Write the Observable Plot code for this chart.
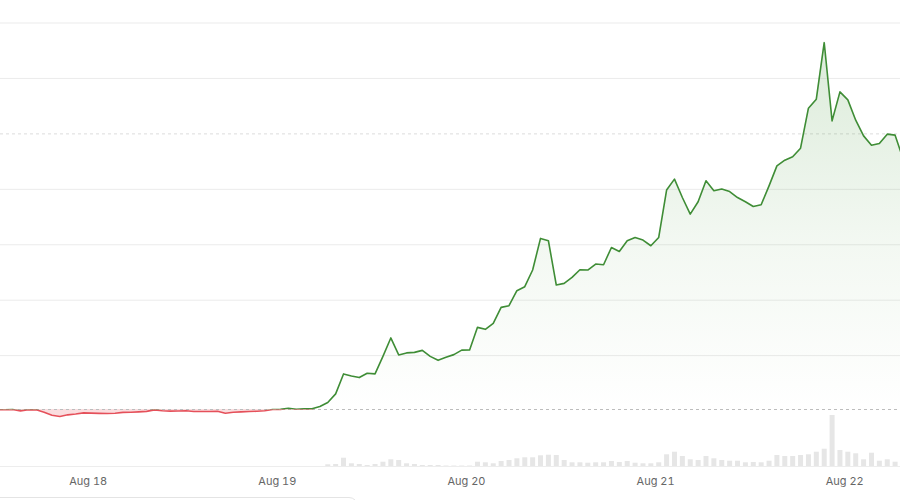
<!DOCTYPE html>
<html><head><meta charset="utf-8">
<script src="https://cdn.jsdelivr.net/npm/d3@7"></script>
<script src="https://cdn.jsdelivr.net/npm/@observablehq/plot@0.6"></script>
<style>
html,body{margin:0;padding:0;background:#fff;overflow:hidden;width:900px;height:500px}
#wrap{position:relative;width:900px;height:500px;overflow:hidden}
#wrap svg{position:absolute;left:0;top:0}
#box{position:absolute;left:-20px;top:497px;width:378px;height:40px;border:1px solid #e4e4e4;border-radius:9px;box-sizing:border-box}
</style></head><body><div id="wrap"><div id="box"></div></div>
<script>
// hourly samples, first at this time
const startTime = "2023-08-17T12:24:00Z";
const prices = [
  0.022, 0.023, 0.027, 0.004, 0.023, 0.022, -0.022, -0.077, -0.099, -0.068, -0.054, -0.032,
  -0.038, -0.041, -0.045, -0.040, -0.023, -0.022, -0.014, -0.005, 0.022, 0.005, -0.002, 0.002,
  0.005, -0.009, -0.009, -0.007, -0.004, -0.040, -0.022, -0.014, -0.009, -0.004, 0.005, 0.027,
  0.031, 0.050, 0.032, 0.040, 0.040, 0.081, 0.153, 0.310, 0.670, 0.634, 0.604, 0.681,
  0.670, 0.987, 1.319, 1.013, 1.049, 1.059, 1.095, 0.987, 0.915, 0.969, 1.018, 1.099,
  1.103, 1.510, 1.474, 1.582, 1.870, 1.901, 2.171, 2.243, 2.544, 3.114, 3.072, 2.274,
  2.303, 2.411, 2.550, 2.544, 2.652, 2.640, 2.951, 2.879, 3.072, 3.132, 3.085, 2.982,
  3.132, 3.986, 4.184, 3.852, 3.553, 3.775, 4.153, 3.973, 4.004, 3.960, 3.852, 3.775,
  3.690, 3.721, 4.063, 4.423, 4.526, 4.586, 4.742, 5.463, 5.625, 6.645, 5.234, 5.757,
  5.613, 5.247, 4.964, 4.796, 4.825, 4.995, 4.977, 4.550
];
const volumes = [
  0,0,0,0,0,0,0,0,0,0,0,0,
  0,0,0,0,0,0,0,0,0,0,0,0,
  0,0,0,0,0,0,0,0,0,0,0,0,
  0,0,0,0,0,0,
  1.7, 2, 8.3, 2.7, 2, 1, 2, 4.3, 6.7, 6, 2.7, 2,
  1, 1, 1, 0.5, 0.5, 0.5, 0.5, 4.3, 3.7, 2.7, 5, 6,
  7.7, 8.7, 8.7, 10.7, 11.3, 11, 6, 3.7, 3.7, 3.3, 3.7, 3.7,
  5, 4, 5, 3.3, 2.7, 2.7, 3.7, 11.7, 14.3, 10, 6.7, 6,
  10, 7.7, 6, 5.3, 5.3, 3.7, 4, 3.7, 5.3, 11, 10, 10,
  11, 11.7, 14.3, 17.3, 51, 16, 14.3, 12.7, 6.7, 13.3, 5.3, 6.7,
  4.3, 4
];
const refPrice = 0.028;
const gridValues = [1, 2, 3, 4, 6, 7];
const dashedGridValues = [5];
const dayTicks = ["2023-08-18", "2023-08-19", "2023-08-20", "2023-08-21", "2023-08-22"];
const xDomain = ["2023-08-17T12:52:00Z", "2023-08-22T07:05:00Z"];

const t0 = new Date(startTime);
const data = prices.map((p, i) => ({t: d3.utcHour.offset(t0, i), price: p, vol: volumes[i]}));
const domainX = xDomain.map(d => new Date(d));

const GREEN = "#3f8d36", RED = "#e5505a";

const defsMark = (index, scales) => {
  const ns = "http://www.w3.org/2000/svg";
  const y = scales && typeof scales.y === "function" ? scales.y : (v => 410.56 - v * 55.44);
  const yRef = y(refPrice), yTop = y(6.8);
  const defs = document.createElementNS(ns, "defs");
  defs.innerHTML =
    `<linearGradient id="gg" gradientUnits="userSpaceOnUse" x1="0" x2="0" y1="${yTop}" y2="${yRef}">` +
    `<stop offset="0" stop-color="#4a9a3f" stop-opacity="0.2"/>` +
    `<stop offset="0.55" stop-color="#4a9a3f" stop-opacity="0.07"/>` +
    `<stop offset="1" stop-color="#4a9a3f" stop-opacity="0"/></linearGradient>` +
    `<clipPath id="clipAbove"><rect x="-50" y="-50" width="1000" height="${yRef + 50}"/></clipPath>` +
    `<clipPath id="clipBelow"><rect x="-50" y="${yRef}" width="1000" height="${600 - yRef}"/></clipPath>`;
  return defs;
};

const volChart = Plot.plot({
  width: 900, height: 500,
  marginTop: 406, marginBottom: 34, marginLeft: 0, marginRight: 0,
  style: {background: "transparent"},
  x: {type: "utc", domain: domainX, axis: null},
  y: {domain: [0, 60], axis: null},
  marks: [
    Plot.ruleY([0], {stroke: "#ededed"}),
    Plot.ruleX(data, {x: "t", y1: d => 0, y2: "vol", stroke: "#e6e6e6", strokeWidth: 5})
  ]
});

const chart = Plot.plot({
  width: 900, height: 500,
  marginTop: 22.5, marginBottom: 34, marginLeft: 0, marginRight: 0,
  style: {background: "transparent", fontFamily: "Inter, 'Liberation Sans', sans-serif", fontSize: "11px", color: "#666"},
  x: {type: "utc", domain: domainX, ticks: dayTicks.map(d => new Date(d)), tickFormat: d3.utcFormat("%b %-d"), tickSize: 0, tickPadding: 11, label: null},
  y: {domain: [-1, 7], axis: null},
  marks: [
    Plot.ruleY(gridValues, {stroke: "#ebebeb"}),
    Plot.ruleY(dashedGridValues, {stroke: "#dcdcdc", strokeDasharray: "3,3"}),
    defsMark,
    Plot.areaY(data, {x: "t", y1: d => refPrice, y2: "price", fill: "url(#gg)", ariaDescription: "green-area"}),
    Plot.areaY(data, {x: "t", y1: d => refPrice, y2: "price", fill: "#f7c6ca", fillOpacity: 0.6, ariaDescription: "red-area"}),
    Plot.ruleY([refPrice], {stroke: "#bdbdbd", strokeDasharray: "3,3"}),
    Plot.lineY(data, {x: "t", y: "price", stroke: GREEN, strokeWidth: 1.6, ariaDescription: "green-line"}),
    Plot.lineY(data, {x: "t", y: "price", stroke: RED, strokeWidth: 1.6, ariaDescription: "red-line"})
  ]
});

const clipFor = {"green-area": "clipAbove", "green-line": "clipAbove", "red-area": "clipBelow", "red-line": "clipBelow"};
let applied = 0;
for (const [desc, clip] of Object.entries(clipFor)) {
  const g = chart.querySelector(`[aria-description="${desc}"]`);
  if (g) { g.setAttribute("clip-path", `url(#${clip})`); applied++; }
}
if (applied < 4) {
  const areas = chart.querySelectorAll('g[aria-label="area"]');
  const lines = chart.querySelectorAll('g[aria-label="line"]');
  if (areas[0]) areas[0].setAttribute("clip-path", "url(#clipAbove)");
  if (areas[1]) areas[1].setAttribute("clip-path", "url(#clipBelow)");
  if (lines[0]) lines[0].setAttribute("clip-path", "url(#clipAbove)");
  if (lines[1]) lines[1].setAttribute("clip-path", "url(#clipBelow)");
}

const wrap = document.getElementById("wrap");
wrap.prepend(chart);
wrap.prepend(volChart);
</script>
</body></html>
